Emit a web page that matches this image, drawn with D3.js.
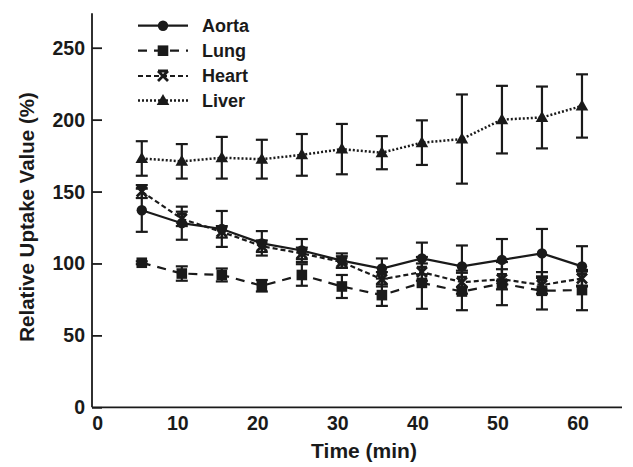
<!DOCTYPE HTML>
<html>
<head>
    <title>Relative Uptake Value</title>
    <script type="text/javascript" src="https://cdnjs.cloudflare.com/ajax/libs/d3/7.8.5/d3.min.js"></script>
    <style>
        body {
            margin: 0;
            background-color: white;
        }
        text {
            font-family: "Liberation Sans", Arial, Helvetica, sans-serif;
            font-weight: bold;
            fill: #1a1a1a;
        }
    </style>
</head>

<body>
    <div id="panel"></div>

    <script>
        // values
        var times = [5.5, 10.5, 15.5, 20.5, 25.5, 30.5, 35.5, 40.5, 45.5, 50.5, 55.5, 60.5];
        var aorta = [137, 128, 124, 114, 109, 102, 96.5, 103.5, 98, 102.5, 107, 98];
        var aorta_err = [15, 11.5, 12.5, 8.5, 8, 5, 7, 11, 14.5, 14.5, 17, 14];
        var lung = [100.5, 93, 92, 84.5, 92, 84, 78, 86.5, 80.5, 86, 81, 81.5];
        var lung_err = [1, 5, 4.5, 4, 7.5, 8, 7.5, 18, 13, 15, 13, 14];
        var heart = [150, 131, 122, 112, 107, 101, 89, 94, 87, 89, 85, 89.5];
        var heart_err = [4.5, 5, 4, 4, 4, 4, 5, 6, 8, 7, 6, 5];
        var liver = [173, 171, 173.5, 172.5, 175.5, 179.5, 177, 184, 186.5, 200, 201.5, 209.5];
        var liver_err = [12, 12, 14.5, 13.5, 14.5, 17.5, 11.5, 15.5, 31, 23.5, 21.5, 22];
        var series_names = ["Aorta", "Lung", "Heart", "Liver"];
        var x_ticks = [0, 10, 20, 30, 40, 50, 60];
        var y_ticks = [0, 50, 100, 150, 200, 250];
    </script>

    <script>
        var width = 633, height = 467;
        var ink = "#1a1a1a";

        var svg = d3.select("#panel").append("svg")
                    .attr("width", width)
                    .attr("height", height);

        var x = d3.scaleLinear().domain([-0.72, 65.5]).range([92, 622]);
        var y = d3.scaleLinear().domain([0, 274]).range([407.3, 13.2]);

        var series = [
            {name: "Aorta", values: aorta, err: aorta_err, dash: null, marker: "circle"},
            {name: "Lung", values: lung, err: lung_err, dash: "9,7", marker: "square"},
            {name: "Heart", values: heart, err: heart_err, dash: "5,3", marker: "cross"},
            {name: "Liver", values: liver, err: liver_err, dash: "2,2", marker: "triangle"}
        ];

        function draw_marker(g, kind, cx, cy)
        {
            if(kind == "circle")
                g.append("circle").attr("cx", cx).attr("cy", cy).attr("r", 5.2).attr("fill", ink);
            else if(kind == "square")
                g.append("rect").attr("x", cx - 5.3).attr("y", cy - 5.3).attr("width", 10.6).attr("height", 10.6).attr("fill", ink);
            else if(kind == "triangle")
                g.append("path").attr("d", "M" + cx + "," + (cy - 6.5) + "L" + (cx + 6.3) + "," + (cy + 4.5) + "L" + (cx - 6.3) + "," + (cy + 4.5) + "Z")
                                .attr("fill", ink);
            else
            {
                g.append("path").attr("d", "M" + (cx - 5) + "," + (cy - 5) + "L" + (cx + 5) + "," + (cy + 5)
                                         + "M" + (cx + 5) + "," + (cy - 5) + "L" + (cx - 5) + "," + (cy + 5)
                                         + "M" + (cx - 5) + "," + (cy - 5) + "L" + (cx + 5) + "," + (cy - 5))
                                .attr("stroke", ink).attr("stroke-width", 2.8).attr("fill", "none");
            }
        }

        // axes
        var y_axis = svg.append("g")
                        .attr("transform", "translate(92,0)")
                        .call(d3.axisRight(y).tickValues(y_ticks).tickSize(10).tickFormat(""));
        y_axis.select(".domain").attr("d", "M0," + y.range()[1] + "V" + y.range()[0]);
        y_axis.selectAll("line, path").attr("stroke", ink).attr("stroke-width", 1.8);

        svg.append("line")
           .attr("x1", 92).attr("x2", 622)
           .attr("y1", y(0)).attr("y2", y(0))
           .attr("stroke", ink).attr("stroke-width", 1.8);

        svg.selectAll(".ytick").data(y_ticks).enter().append("text")
           .attr("x", 85).attr("y", function(d){ return y(d); })
           .attr("dy", "0.36em").attr("text-anchor", "end")
           .attr("font-size", 19.5)
           .text(function(d){ return d; });

        svg.selectAll(".xtick").data(x_ticks).enter().append("text")
           .attr("x", function(d){ return x(d); }).attr("y", 422.5)
           .attr("dy", "0.36em").attr("text-anchor", "middle")
           .attr("font-size", 19.5)
           .text(function(d){ return d; });

        svg.append("text")
           .attr("transform", "translate(27,217) rotate(-90)")
           .attr("text-anchor", "middle").attr("dy", "0.36em")
           .attr("font-size", 20.5)
           .text("Relative Uptake Value (%)");

        svg.append("text")
           .attr("x", 364).attr("y", 450)
           .attr("text-anchor", "middle").attr("dy", "0.36em")
           .attr("font-size", 21)
           .text("Time (min)");

        // error bars
        series.forEach(function(s){
            var g = svg.append("g").attr("stroke", ink).attr("stroke-width", 2.2);
            times.forEach(function(t, i){
                var top = y(s.values[i] + s.err[i]), bot = y(s.values[i] - s.err[i]), cx = x(t);
                g.append("line").attr("x1", cx).attr("x2", cx).attr("y1", top).attr("y2", bot);
                g.append("line").attr("x1", cx - 6).attr("x2", cx + 6).attr("y1", top).attr("y2", top);
                g.append("line").attr("x1", cx - 6).attr("x2", cx + 6).attr("y1", bot).attr("y2", bot);
            });
        });

        // lines and markers
        var line = d3.line().x(function(d){ return x(d[0]); }).y(function(d){ return y(d[1]); });
        series.forEach(function(s){
            var pts = times.map(function(t, i){ return [t, s.values[i]]; });
            svg.append("path").datum(pts)
               .attr("d", line)
               .attr("fill", "none")
               .attr("stroke", ink)
               .attr("stroke-width", s.name == "Liver" ? 2.5 : 2.2)
               .attr("stroke-dasharray", s.dash);
            var g = svg.append("g");
            pts.forEach(function(p){ draw_marker(g, s.marker, x(p[0]), y(p[1])); });
        });

        // legend
        var legend_y = [25.7, 50.7, 76, 100.5];
        series.forEach(function(s, i){
            var ly = legend_y[i];
            svg.append("line")
               .attr("x1", 138).attr("x2", 188).attr("y1", ly).attr("y2", ly)
               .attr("stroke", ink).attr("stroke-width", s.name == "Liver" ? 2.5 : 2.2)
               .attr("stroke-dasharray", s.dash);
            draw_marker(svg, s.marker, 163, ly);
            svg.append("text")
               .attr("x", 202).attr("y", ly).attr("dy", "0.36em")
               .attr("font-size", 18)
               .text(series_names[i]);
        });
    </script>
</body>
</html>
